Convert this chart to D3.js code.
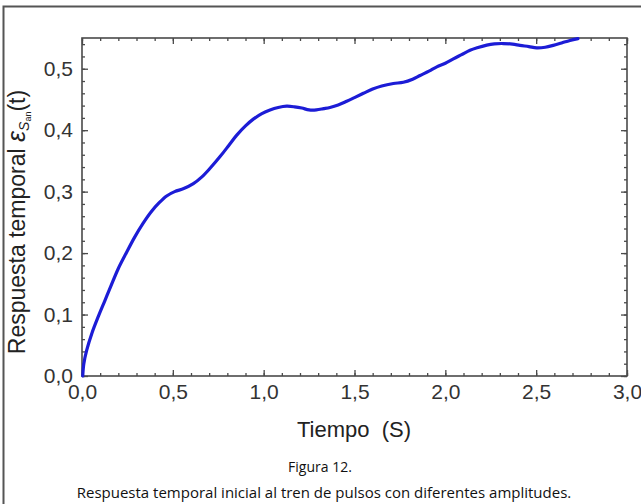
<!DOCTYPE html>
<html>
<head>
<meta charset="utf-8">
<script src="https://cdn.jsdelivr.net/npm/d3@7"></script>
<style>
  html, body { margin: 0; padding: 0; background: #fff; }
  svg { display: block; }
</style>
</head>
<body>
<svg id="chart" width="641" height="504"></svg>
<script>
const timeValues = [0.004, 0.01, 0.026, 0.055, 0.09, 0.125, 0.16, 0.2, 0.245, 0.29, 0.335, 0.38, 0.425, 0.466, 0.51, 0.56, 0.613, 0.66, 0.705, 0.76, 0.81, 0.852, 0.9, 0.943, 0.99, 1.035, 1.08, 1.127, 1.17, 1.21, 1.25, 1.29, 1.33, 1.365, 1.41, 1.457, 1.5, 1.549, 1.6, 1.65, 1.714, 1.769, 1.82, 1.861, 1.91, 1.953, 2.0, 2.044, 2.09, 2.136, 2.18, 2.228, 2.27, 2.319, 2.37, 2.411, 2.46, 2.503, 2.55, 2.594, 2.64, 2.686, 2.73];
const responseValues = [0, 0.02, 0.042, 0.07, 0.097, 0.122, 0.147, 0.175, 0.201, 0.226, 0.248, 0.267, 0.282, 0.293, 0.3, 0.305, 0.313, 0.324, 0.338, 0.357, 0.376, 0.392, 0.407, 0.418, 0.427, 0.433, 0.437, 0.439, 0.438, 0.436, 0.433, 0.433, 0.435, 0.437, 0.441, 0.447, 0.453, 0.46, 0.467, 0.472, 0.476, 0.478, 0.483, 0.489, 0.496, 0.503, 0.509, 0.516, 0.523, 0.53, 0.5345, 0.5385, 0.5405, 0.541, 0.54, 0.538, 0.536, 0.534, 0.535, 0.538, 0.542, 0.546, 0.549];
const xMajorTicks = [0, 0.5, 1.0, 1.5, 2.0, 2.5, 3.0];
const yMajorTicks = [0, 0.1, 0.2, 0.3, 0.4, 0.5];
const xTitle = "Tiempo  (S)";
const yTitleMain = "Respuesta temporal ";
const captionTitle = "Figura 12.";
const captionText = "Respuesta temporal inicial al tren de pulsos con diferentes amplitudes.";

const svg = d3.select("#chart");
const mLeft = 82, mRight = 627, mTop = 38, mBottom = 376;
const x = d3.scaleLinear().domain([0, 3]).range([mLeft, mRight]);
const y = d3.scaleLinear().domain([0, 0.55]).range([mBottom, mTop]);
const fmt = d => d3.format(".1f")(d).replace(".", ",");
const axisColor = "#4a4a4a";
const font = "'Liberation Sans', Arial, sans-serif";

// outer frame (partially visible)
svg.append("path")
  .attr("d", `M3.5,504 L3.5,6.5 L641,6.5`)
  .attr("fill", "none").attr("stroke", "#555").attr("stroke-width", 2);

const xMinor = d3.range(0, 31).map(i => i / 10);
const yMinor = d3.range(0, 28).map(i => i * 0.02).filter(v => v <= 0.55);

function styleAxis(g) {
  g.select(".domain").remove();
  g.selectAll(".tick line").attr("stroke", axisColor).attr("stroke-width", 1.3);
  g.selectAll(".tick text").attr("fill", "#333").attr("font-family", font).attr("font-size", 21);
}

// bottom axis (inward ticks)
const gB = svg.append("g").attr("transform", `translate(0,${mBottom})`);
gB.append("g").call(d3.axisTop(x).tickValues(xMinor).tickSize(3).tickFormat("")).call(styleAxis);
gB.append("g").call(d3.axisTop(x).tickValues(xMajorTicks).tickSize(6).tickFormat("")).call(styleAxis);
gB.append("g").call(d3.axisBottom(x).tickValues(xMajorTicks).tickSize(0).tickPadding(8).tickFormat(fmt)).call(styleAxis);

// top axis
const gT = svg.append("g").attr("transform", `translate(0,${mTop})`);
gT.append("g").call(d3.axisBottom(x).tickValues(xMinor).tickSize(3).tickFormat("")).call(styleAxis);
gT.append("g").call(d3.axisBottom(x).tickValues(xMajorTicks).tickSize(6).tickFormat("")).call(styleAxis);

// left axis
const gL = svg.append("g").attr("transform", `translate(${mLeft},0)`);
gL.append("g").call(d3.axisRight(y).tickValues(yMinor).tickSize(3).tickFormat("")).call(styleAxis);
gL.append("g").call(d3.axisRight(y).tickValues(yMajorTicks).tickSize(6).tickFormat("")).call(styleAxis);
gL.append("g").call(d3.axisLeft(y).tickValues(yMajorTicks).tickSize(0).tickPadding(9).tickFormat(fmt)).call(styleAxis);

// right axis
const gR = svg.append("g").attr("transform", `translate(${mRight},0)`);
gR.append("g").call(d3.axisLeft(y).tickValues(yMinor).tickSize(3).tickFormat("")).call(styleAxis);
gR.append("g").call(d3.axisLeft(y).tickValues(yMajorTicks).tickSize(6).tickFormat("")).call(styleAxis);

// frame
svg.append("rect").attr("x", mLeft).attr("y", mTop).attr("width", mRight - mLeft).attr("height", mBottom - mTop)
  .attr("fill", "none").attr("stroke", axisColor).attr("stroke-width", 1.6);

// curve
const pts = timeValues.map((t, i) => [t, responseValues[i]]);
svg.append("path")
  .datum(pts)
  .attr("fill", "none")
  .attr("stroke", "#1c1cd6")
  .attr("stroke-width", 3.2)
  .attr("stroke-linecap", "round")
  .attr("d", d3.line().x(d => x(d[0])).y(d => y(d[1])).curve(d3.curveCatmullRom.alpha(0.5)));

// x title
svg.append("text").attr("x", 354).attr("y", 437).attr("text-anchor", "middle")
  .attr("font-family", font).attr("font-size", 22).attr("fill", "#222").attr("xml:space", "preserve")
  .text(xTitle);

// y title
const yt = svg.append("text")
  .attr("transform", `translate(25,222) rotate(-90)`)
  .attr("text-anchor", "middle")
  .attr("font-family", font).attr("font-size", 23).attr("fill", "#222");
yt.append("tspan").text(yTitleMain);
yt.append("tspan").attr("font-style", "italic").attr("font-size", 25).text("ε");
yt.append("tspan").attr("font-size", 14).attr("font-style", "italic").attr("dy", 4).text("S");
yt.append("tspan").attr("font-size", 9).attr("dy", 2).text("an");
yt.append("tspan").attr("dy", -6).text("(t)");

// captions
svg.append("text").attr("x", 320).attr("y", 472).attr("text-anchor", "middle")
  .attr("font-family", "'Open Sans', sans-serif").attr("font-size", 14).attr("fill", "#111")
  .text(captionTitle);
svg.append("text").attr("x", 324).attr("y", 498).attr("text-anchor", "middle")
  .attr("font-family", "'Open Sans', sans-serif").attr("font-size", 15).attr("fill", "#111")
  .text(captionText);
</script>
</body>
</html>
